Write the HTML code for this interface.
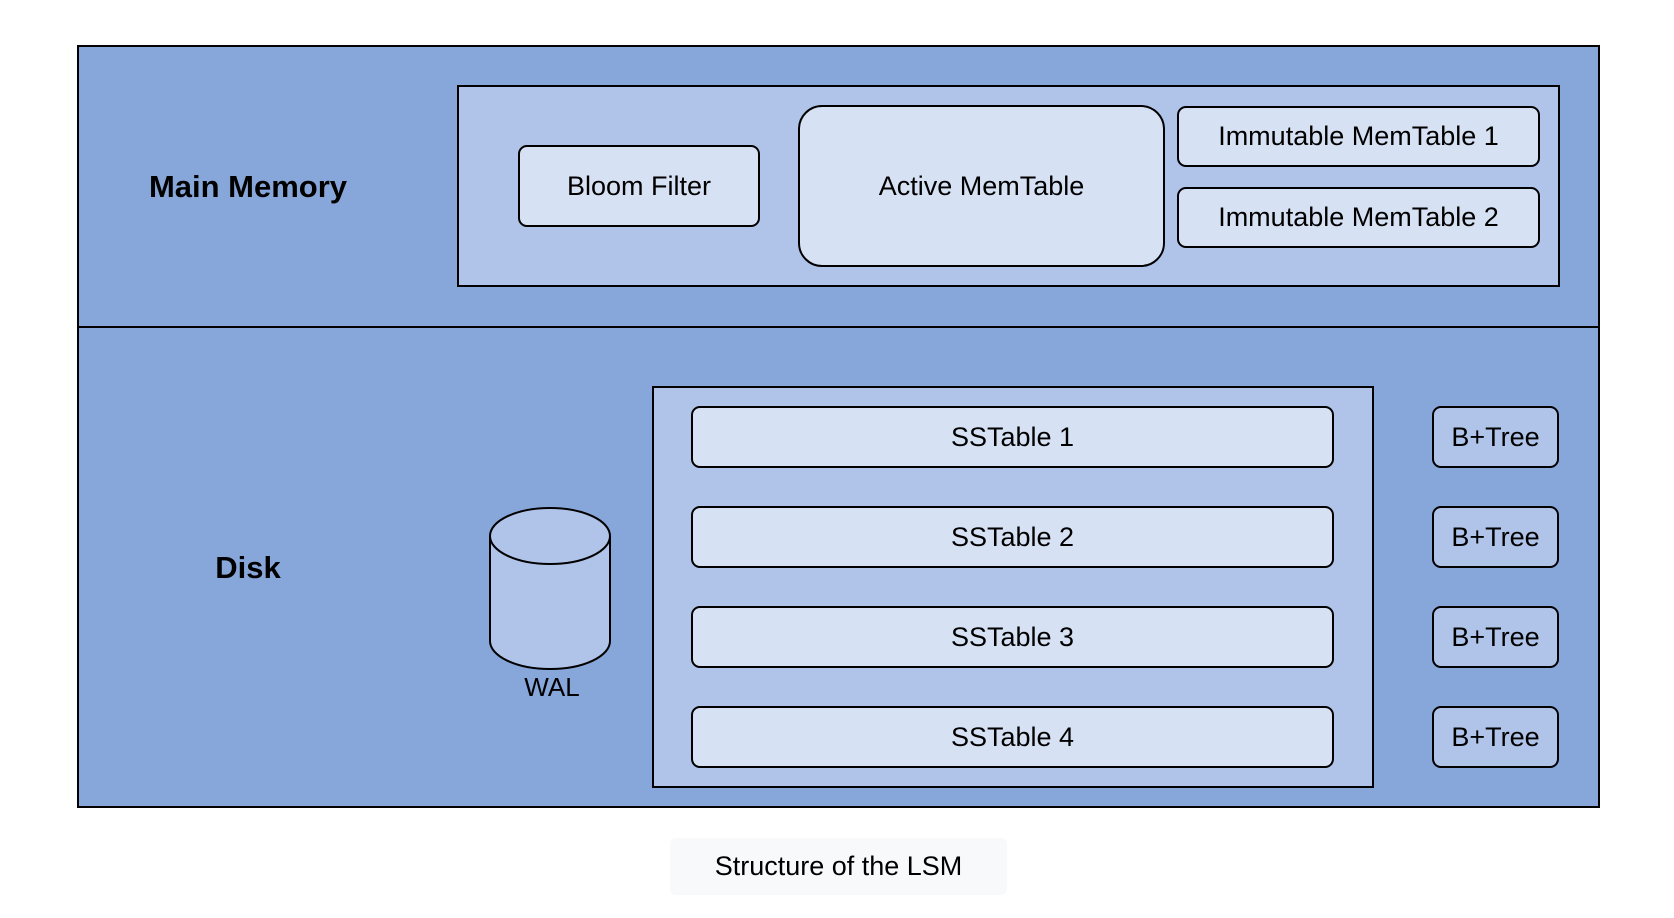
<!DOCTYPE html>
<html><head><style>
body{margin:0;width:1674px;height:918px;background:#fff;position:relative;font-family:"Liberation Sans",Arial,sans-serif;overflow:hidden}
div{position:absolute;box-sizing:border-box}
.o{background:#87a6da;border:2px solid #000}
.i{background:#b0c4ea;border:2px solid #000}
.b{background:#d7e1f4;border:2px solid #000;border-radius:9px;display:flex;align-items:center;justify-content:center;font-size:27px;color:#000}
.t{background:#b0c4ea}
.l{font-weight:bold;font-size:31px;transform:translate(-50%,-50%);white-space:nowrap}
</style></head><body>
<div class="o" style="left:77px;top:45px;width:1523px;height:283px"></div>
<div class="o" style="left:77px;top:326px;width:1523px;height:482px"></div>
<div class="l" style="left:248px;top:187px">Main Memory</div>
<div class="l" style="left:248px;top:568px">Disk</div>
<div class="i" style="left:457px;top:85px;width:1103px;height:202px"></div>
<div class="b" style="left:518px;top:145px;width:242px;height:82px">Bloom Filter</div>
<div class="b" style="left:798px;top:105px;width:367px;height:162px;border-radius:24px">Active MemTable</div>
<div class="b" style="left:1177px;top:106px;width:363px;height:61px">Immutable MemTable 1</div>
<div class="b" style="left:1177px;top:187px;width:363px;height:61px">Immutable MemTable 2</div>
<div class="i" style="left:652px;top:386px;width:722px;height:402px"></div>
<div class="b" style="left:691px;top:406px;width:643px;height:62px">SSTable 1</div>
<div class="b" style="left:691px;top:506px;width:643px;height:62px">SSTable 2</div>
<div class="b" style="left:691px;top:606px;width:643px;height:62px">SSTable 3</div>
<div class="b" style="left:691px;top:706px;width:643px;height:62px">SSTable 4</div>
<div class="b t" style="left:1432px;top:406px;width:127px;height:62px">B+Tree</div>
<div class="b t" style="left:1432px;top:506px;width:127px;height:62px">B+Tree</div>
<div class="b t" style="left:1432px;top:606px;width:127px;height:62px">B+Tree</div>
<div class="b t" style="left:1432px;top:706px;width:127px;height:62px">B+Tree</div>
<svg style="position:absolute;left:488px;top:506px" width="126" height="166">
<path d="M2,30 L2,135 A60,28 0 0 0 122,135 L122,30" fill="#b0c4ea" stroke="#000" stroke-width="2"/>
<ellipse cx="62" cy="30" rx="60" ry="28" fill="#b0c4ea" stroke="#000" stroke-width="2"/>
</svg>
<div style="left:490px;top:672px;width:124px;text-align:center;font-size:26px">WAL</div>
<div style="left:670px;top:838px;width:337px;height:57px;background:#f8f9fb;border-radius:6px;display:flex;align-items:center;justify-content:center;font-size:27px">Structure of the LSM</div>
</body></html>
